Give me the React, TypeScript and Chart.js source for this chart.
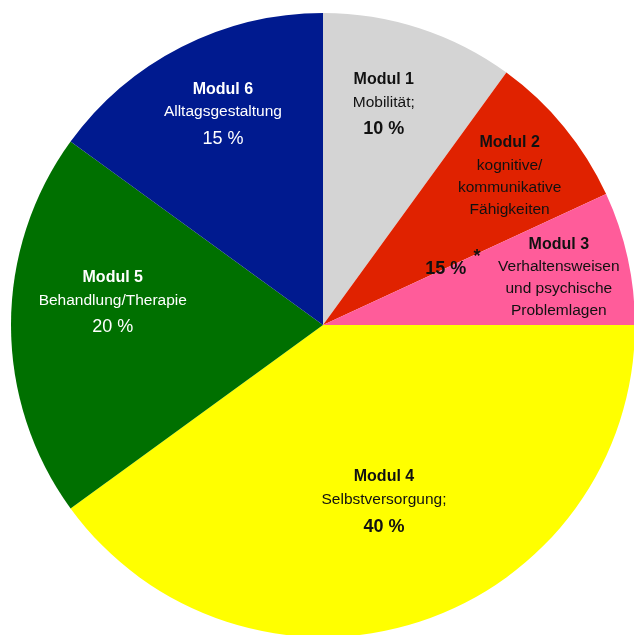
import React, { useEffect, useRef } from "react";
import { Chart, registerables } from "chart.js";

Chart.register(...registerables);

// ---- data ----
const categories = ["Modul 1", "Modul 2", "Modul 3", "Modul 4", "Modul 5", "Modul 6"];
const shares = [10, 8.1, 6.9, 40, 20, 15];
const descriptions = [
  ["Mobilität;"],
  ["kognitive/", "kommunikative", "Fähigkeiten"],
  ["Verhaltensweisen", "und psychische", "Problemlagen"],
  ["Selbstversorgung;"],
  ["Behandlung/Therapie"],
  ["Alltagsgestaltung"],
];
const percentLabels = ["10 %", "", "", "40 %", "20 %", "15 %"];
const combinedLabel = "15 %";
const combinedMark = "*";

// ---- styles / layout ----
const sliceColors = ["#d4d4d4", "#e02200", "#ff5c9a", "#ffff00", "#007000", "#001a8f"];
const textColors = ["#111111", "#111111", "#111111", "#111111", "#ffffff", "#ffffff"];
const percentBold = [true, true, true, true, false, false];
const labelRadius = [0.811, 0.836, 0.799, 0.524, 0.691, 0.821];
const labelAngleShift = [-4.1, -4.9, -6.5, -3.9, 12.8, 4];
const FONT = '"Liberation Sans", Arial, Helvetica, sans-serif';

const labelPlugin = {
  id: "sliceLabels",
  afterDatasetsDraw(chart: any) {
    const ctx = chart.ctx;
    const meta = chart.getDatasetMeta(0);
    ctx.save();
    ctx.textAlign = "center";
    ctx.textBaseline = "middle";
    meta.data.forEach((arc: any, i: number) => {
      const p = arc.getProps(["x", "y", "startAngle", "endAngle", "outerRadius"], true);
      const mid = (p.startAngle + p.endAngle) / 2 + (labelAngleShift[i] * Math.PI) / 180;
      const rr = p.outerRadius * labelRadius[i];
      const px = p.x + Math.cos(mid) * rr;
      let py = p.y + Math.sin(mid) * rr;
      ctx.fillStyle = textColors[i];
      ctx.font = `bold 16px ${FONT}`;
      ctx.fillText(categories[i], px, py);
      py += 23;
      ctx.font = `15.5px ${FONT}`;
      descriptions[i].forEach((line, k) => {
        if (k > 0) py += 22;
        ctx.fillText(line, px, py);
      });
      if (percentLabels[i]) {
        py += 27;
        ctx.font = `${percentBold[i] ? "bold " : ""}18px ${FONT}`;
        ctx.fillText(percentLabels[i], px, py);
      }
    });
    // combined label for Modul 2 + 3
    const a2 = meta.data[1].getProps(["x", "y", "endAngle", "outerRadius"], true);
    const ang1 = a2.endAngle + (0.4 * Math.PI) / 180;
    ctx.fillStyle = "#111111";
    ctx.font = `bold 18px ${FONT}`;
    ctx.fillText(
      combinedLabel,
      a2.x + Math.cos(ang1) * a2.outerRadius * 0.432,
      a2.y + Math.sin(ang1) * a2.outerRadius * 0.432
    );
    const ang2 = a2.endAngle + (1 * Math.PI) / 180;
    ctx.font = `bold 18px ${FONT}`;
    ctx.fillText(
      combinedMark,
      a2.x + Math.cos(ang2) * a2.outerRadius * 0.54,
      a2.y + Math.sin(ang2) * a2.outerRadius * 0.54
    );
    ctx.restore();
  },
};

export default function App() {
  const ref = useRef<HTMLCanvasElement | null>(null);
  useEffect(() => {
    if (!ref.current) return;
    const chart = new Chart(ref.current, {
      type: "pie",
      data: {
        labels: categories,
        datasets: [
          {
            data: shares,
            backgroundColor: sliceColors,
            borderWidth: 0,
          },
        ],
      },
      options: {
        responsive: false,
        animation: false,
        devicePixelRatio: 1,
        layout: { padding: 8 },
        plugins: {
          legend: { display: false },
          tooltip: { enabled: false },
        },
      },
      plugins: [labelPlugin],
    });
    return () => chart.destroy();
  }, []);
  return (
    <div
      style={{
        position: "fixed",
        left: 0,
        top: 0,
        width: 634,
        height: 635,
        overflow: "hidden",
        background: "#ffffff",
      }}
    >
      <canvas
        ref={ref}
        width={640}
        height={640}
        style={{ position: "absolute", left: 3, top: 5, width: 640, height: 640 }}
      />
    </div>
  );
}
